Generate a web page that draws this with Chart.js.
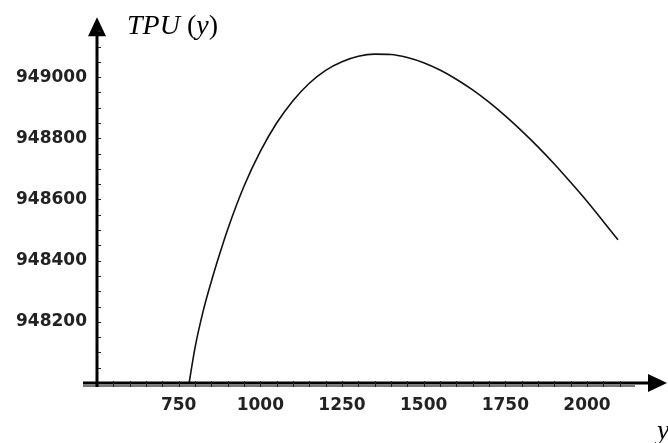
<!DOCTYPE html>
<html>
<head>
<meta charset="utf-8">
<script src="https://cdn.jsdelivr.net/npm/chart.js@4"></script>
<style>
  body { margin: 0; background: #fff; }
  #box { width: 668px; height: 443px; }
</style>
</head>
<body>
<div id="box"><canvas id="grafico" width="668" height="443"></canvas></div>
<script>
var yLotes = [782, 800, 825, 850, 875, 900, 950, 1000, 1050, 1100, 1150, 1200, 1250, 1300, 1350,
  1400, 1450, 1500, 1550, 1600, 1650, 1700, 1750, 1800, 1850, 1900, 1950, 2000, 2050, 2095];
var tpu = [948000, 948115, 948235, 948332, 948420, 948502, 948643, 948757, 948850, 948923, 948980,
  949022, 949050, 949068, 949075, 949074, 949064, 949047, 949023, 948993, 948958, 948918, 948873,
  948824, 948772, 948716, 948656, 948594, 948528, 948468];

// rotulos dos eixos
var xTicks = [750, 1000, 1250, 1500, 1750, 2000];
var yTicks = [948200, 948400, 948600, 948800, 949000];

var pontos = yLotes.map(function (v, i) { return { x: v, y: tpu[i] }; });

var fonteTicks = { family: 'DejaVu Sans', size: 17, weight: 'bold' };

// eixos com setas, estilo Mathematica
var eixosPlugin = {
  id: 'eixos',
  afterDraw: function (chart) {
    var c = chart.ctx;
    var a = chart.chartArea;
    var sx = chart.scales.x;
    var sy = chart.scales.y;
    var x0 = a.left, y0 = a.bottom;
    c.save();

    // linha cinza abaixo do eixo x
    c.strokeStyle = '#777';
    c.lineWidth = 2;
    c.beginPath();
    c.moveTo(x0 - 14, y0 + 3);
    c.lineTo(635, y0 + 3);
    c.stroke();

    c.strokeStyle = '#000';
    c.fillStyle = '#000';
    c.lineWidth = 3;
    // eixo x
    c.beginPath();
    c.moveTo(x0 - 14, y0);
    c.lineTo(a.right - 14, y0);
    c.stroke();
    // eixo y
    c.beginPath();
    c.moveTo(x0, y0 + 4);
    c.lineTo(x0, a.top + 14);
    c.stroke();

    // setas
    c.beginPath();
    c.moveTo(a.right, y0);
    c.lineTo(a.right - 19, y0 - 9);
    c.lineTo(a.right - 19, y0 + 9);
    c.closePath();
    c.fill();
    c.beginPath();
    c.moveTo(x0, a.top - 3);
    c.lineTo(x0 - 9, a.top + 16);
    c.lineTo(x0 + 9, a.top + 16);
    c.closePath();
    c.fill();

    // marcas menores
    c.lineWidth = 1;
    c.strokeStyle = '#222';
    var v, p;
    for (v = 550; v <= 2100; v += 50) {
      p = Math.round(sx.getPixelForValue(v)) + 0.5;
      c.beginPath();
      c.moveTo(p, y0 - 2);
      c.lineTo(p, y0 + 4);
      c.stroke();
    }
    for (v = 948050; v <= 949150; v += 50) {
      p = Math.round(sy.getPixelForValue(v)) + 0.5;
      c.beginPath();
      c.moveTo(x0 + 1, p);
      c.lineTo(x0 + 4, p);
      c.stroke();
    }

    // titulos dos eixos
    c.fillStyle = '#000';
    c.textBaseline = 'alphabetic';
    var tx = 127, ty = 34;
    var partes = [['TPU', 'italic'], [' (', 'normal'], ['y', 'italic'], [')', 'normal']];
    partes.forEach(function (pt) {
      c.font = pt[1] + ' 28px "Liberation Serif"';
      c.fillText(pt[0], tx, ty);
      tx += c.measureText(pt[0]).width;
    });
    c.font = 'italic 28px "Liberation Serif"';
    c.fillText('y', 657, 439);
    c.restore();
  }
};

var ctx = document.getElementById('grafico').getContext('2d');

var meuGrafico = new Chart(ctx, {
  type: 'line',
  data: {
    datasets: [{
      data: pontos,
      borderColor: '#111',
      borderWidth: 1.6,
      pointRadius: 0,
      cubicInterpolationMode: 'monotone',
      fill: false
    }]
  },
  options: {
    responsive: false,
    animation: false,
    layout: { padding: { top: 20, right: 1, left: 0, bottom: 0 } },
    plugins: {
      legend: { display: false },
      tooltip: { enabled: false }
    },
    scales: {
      x: {
        type: 'linear',
        min: 500,
        max: 2245,
        afterBuildTicks: function (s) {
          s.ticks = xTicks.map(function (v) { return { value: v }; });
        },
        afterFit: function (s) { s.height = 60; },
        grid: { display: false, drawTicks: false },
        border: { display: false },
        ticks: {
          padding: 12,
          maxRotation: 0,
          autoSkip: false,
          color: '#222',
          font: fonteTicks,
          callback: function (v) { return String(v); }
        }
      },
      y: {
        min: 948000,
        max: 949186,
        afterBuildTicks: function (s) {
          s.ticks = yTicks.map(function (v) { return { value: v }; });
        },
        afterFit: function (s) { s.width = 97; },
        grid: { display: false, drawTicks: false },
        border: { display: false },
        ticks: {
          padding: 10,
          autoSkip: false,
          color: '#222',
          font: fonteTicks,
          callback: function (v) { return String(v); }
        }
      }
    }
  },
  plugins: [eixosPlugin]
});
</script>
</body>
</html>
